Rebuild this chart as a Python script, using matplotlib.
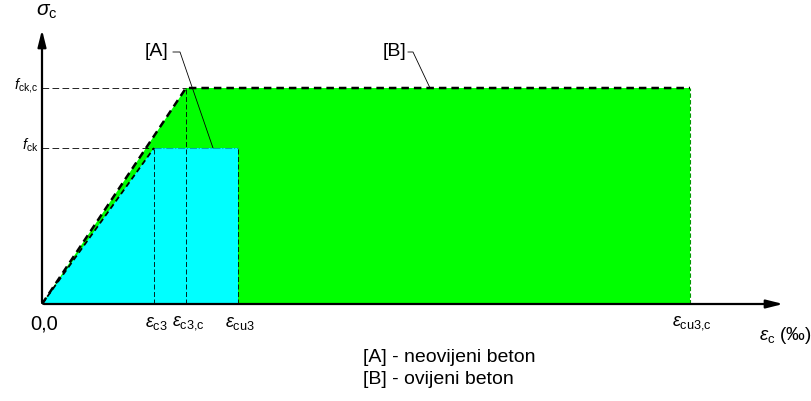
import matplotlib.pyplot as plt
import numpy as np

plt.rcParams['font.family'] = ['Liberation Sans', 'DejaVu Sans']
plt.rcParams['mathtext.fontset'] = 'custom'
plt.rcParams['mathtext.rm'] = 'Liberation Sans'
plt.rcParams['mathtext.it'] = 'Liberation Sans:italic'

# deformacije (proizvoljna skala) i naprezanja
eps_c3 = 1.12
eps_c3c = 1.44
eps_cu3 = 1.96
eps_cu3c = 6.48
f_ck = 1.56
f_ckc = 2.16

x_oznake = ["0,0", r"$\varepsilon_{\mathrm{c3}}$", r"$\varepsilon_{\mathrm{c3{,}c}}$",
            r"$\varepsilon_{\mathrm{cu3}}$", r"$\varepsilon_{\mathrm{cu3{,}c}}$"]
x_pozicije = [0, eps_c3, eps_c3c, eps_cu3, eps_cu3c]
y_oznake = [r"$f_{\mathrm{ck}}$", r"$f_{\mathrm{ck{,}c}}$"]
y_pozicije = [f_ck, f_ckc]

# [B] ovijeni beton, [A] neovijeni beton
B_x = [0, eps_c3c, eps_cu3c, eps_cu3c]
B_y = [0, f_ckc, f_ckc, 0]
A_x = [0, eps_c3, eps_cu3, eps_cu3]
A_y = [0, f_ck, f_ck, 0]

fig = plt.figure(figsize=(8.12, 4.01), dpi=100)
ax = fig.add_axes([0, 0, 1, 1])
ax.set_xlim(-0.42, 7.70)
ax.set_ylim(-0.97, 3.04)
ax.axis("off")

ax.fill(B_x, B_y, color="#00ff00", lw=0, zorder=1)
ax.fill(A_x, A_y, color="#00ffff", lw=0, zorder=2)

# obrisi
ax.plot(B_x[:3], B_y[:3], color="black", lw=1.8, ls=(0, (3, 2)), zorder=5)
ax.plot(A_x[:2], A_y[:2], color="black", lw=1.3, ls=(0, (3, 2)), zorder=5)
ax.plot([eps_cu3c, eps_cu3c], [0, f_ckc], color="#009900", lw=0.8, ls=(0, (4, 2)), zorder=4)
ax.plot(A_x[1:3], A_y[1:3], color="#00aaaa", lw=0.8, ls="-.", zorder=4)
for xv, yv in [(eps_c3, f_ck), (eps_c3c, f_ckc), (eps_cu3, f_ck)]:
    ax.plot([xv, xv], [0, yv], color="black", lw=0.6, ls=(0, (6, 3)), zorder=4)
for xv, yv in [(eps_c3, f_ck), (eps_c3c, f_ckc)]:
    ax.plot([0, xv], [yv, yv], color="black", lw=0.6, ls=(0, (8, 4)), zorder=4)

# osi
ax.annotate("", xy=(0, 2.77), xytext=(0, -0.01),
            arrowprops=dict(arrowstyle="-|>,head_length=1.0,head_width=0.25", color="black", lw=1.6), zorder=6)
ax.annotate("", xy=(7.44, 0), xytext=(-0.01, 0),
            arrowprops=dict(arrowstyle="-|>,head_length=1.0,head_width=0.25", color="black", lw=1.6), zorder=6)

ax.text(0.05, 2.92, r"$\sigma_{\mathrm{c}}$", fontsize=15, ha="center", va="center")
for lab, yv in zip(y_oznake, y_pozicije):
    ax.text(-0.04, yv + 0.03, lab, fontsize=10.5, ha="right", va="center")
for i, (lab, xv) in enumerate(zip(x_oznake, x_pozicije)):
    if i == 0:
        ax.text(xv + 0.02, -0.2, lab, fontsize=14.5, ha="center", va="center")
    else:
        ax.text(xv + 0.02, -0.19, lab, fontsize=13, ha="center", va="center")
ax.text(7.43, -0.31, r"$\varepsilon_{\mathrm{c}}$ (‰)", fontsize=13.5, ha="center", va="center")

# oznake [A] i [B]
ax.text(1.15, 2.52, "[A]", fontsize=14, ha="center", va="center")
ax.plot([1.31, 1.38, 1.71], [2.52, 2.52, f_ck], color="black", lw=0.6, zorder=7)
ax.text(3.53, 2.52, "[B]", fontsize=14, ha="center", va="center")
ax.plot([3.66, 3.71, 3.88], [2.52, 2.52, f_ckc], color="black", lw=0.6, zorder=7)

ax.text(3.21, -0.53, "[A] - neovijeni beton", fontsize=14, ha="left", va="center")
ax.text(3.21, -0.76, "[B] - ovijeni beton", fontsize=14, ha="left", va="center")

fig.savefig("out.png", dpi=100)
